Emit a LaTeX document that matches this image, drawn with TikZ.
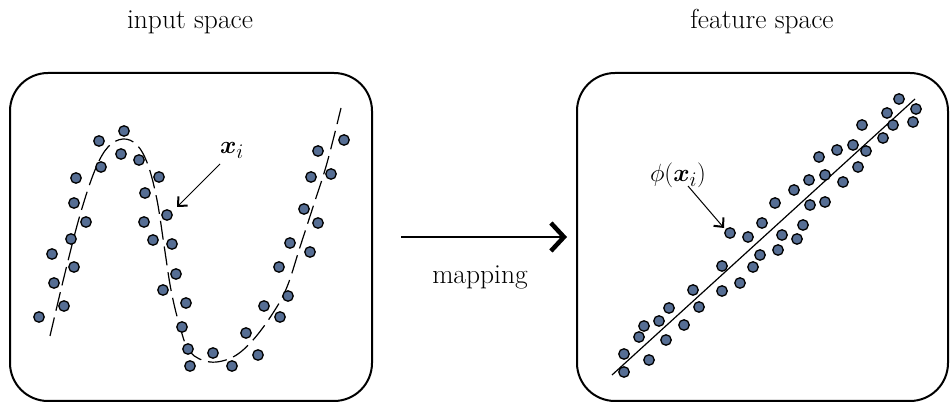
\documentclass[tikz,border=0pt]{standalone}
\usepackage{amsmath}
\usepackage{bm}
\usetikzlibrary{arrows.meta}
\definecolor{dotblue}{RGB}{86,110,148}
\tikzset{
  panel/.style={draw, line width=2pt, rounded corners=38pt, inner sep=0pt},
  dot/.style={circle, draw, line width=1.3pt, fill=dotblue, minimum size=10.5pt, inner sep=0pt},
  lbl/.style={font=\fontsize{27.5}{32}\selectfont},
  pointer/.style={-{Straight Barb[length=7pt,width=13pt,line width'=2pt]}, line width=1pt},
}
\begin{document}
\begin{tikzpicture}[x=1pt,y=-1pt]
\useasboundingbox (0,0) rectangle (951,403);
% the two spaces
\node[panel, minimum width=362pt, minimum height=328pt] (inbox) at (191,237) {};
\node[panel, minimum width=371pt, minimum height=328pt] (outbox) at (762.5,237) {};
\node[lbl] (tin) at (190,22) {input space};
\node[lbl] (tout) at (762,22) {feature space};
% mapping arrow between the panels
\coordinate (ma) at ([xshift=28pt]inbox.east);
\coordinate (mb) at ([xshift=-9pt]outbox.west);
\draw[line width=2.8pt, -{Straight Barb[length=13pt,width=28pt,line width'=4.5pt]}] (ma) -- (mb);
\node[lbl] (map) at (480,277) {mapping};
% curve in input space
\draw[line width=1.2pt, dash pattern=on 19pt off 7pt]
  plot[smooth, tension=0.6] coordinates {(50,336) (65,273) (80,215) (95,170) (108,147) (123,139) (137,145) (148,165) (157,200) (164,245) (171,290) (180,327) (190,352) (210,362) (233,357) (253,340) (273,313) (287,287) (300,247) (313,207) (327,163) (341,108)};
% samples in input space
\foreach \x/\y [count=\i] in {124/131, 99/141, 121/154, 139/160, 101/167, 76/178, 159/177, 145/193,
  74/203, 86/222, 167/215, 144/222, 153/240, 172/244, 71/239, 52/254, 74/267, 176/274, 54/283,
  163/290, 64/306, 39/317, 186/303, 182/327, 188/349, 213/353, 190/366, 232/366, 246/333,
  258/355, 264/306, 280/317, 288/296, 279/267, 290/243, 310/252, 304/209, 318/223, 311/177,
  331/174, 318/151, 344/140}
  \node[dot] (p\i) at (\x,\y) {};
% line in feature space
\coordinate (la) at (612,375);
\coordinate (lb) at (915,99);
\draw[line width=1.2pt] (la) -- (lb);
% samples in feature space
\foreach \x/\y [count=\i] in {899/99, 916/109, 887/113, 893/125, 913/122, 862/125, 883/138, 853/145,
  866/151, 837/150, 819/157, 858/167, 825/175, 809/180, 843/182, 794/190, 775/203, 825/202,
  810/205, 762/223, 803/225, 730/233, 748/237, 782/235, 797/239, 760/255, 778/250, 722/266,
  753/267, 740/283, 722/291, 693/290, 699/307, 669/308, 659/321, 684/325, 644/326, 639/337,
  666/340, 624/354, 649/360, 624/372}
  \node[dot] (q\i) at (\x,\y) {};
% labels with pointers
\node[lbl] (xi) at (232,150) {$\bm{x}_i$};
\coordinate (xa) at (220,164);
\coordinate (xb) at (177,207);
\draw[pointer] (xa) -- (xb);
\node[lbl] (phi) at (678,175) {$\phi(\bm{x}_i)$};
\coordinate (pa) at (688,186);
\coordinate (pb) at (724,228);
\draw[pointer] (pa) -- (pb);
\end{tikzpicture}
\end{document}
